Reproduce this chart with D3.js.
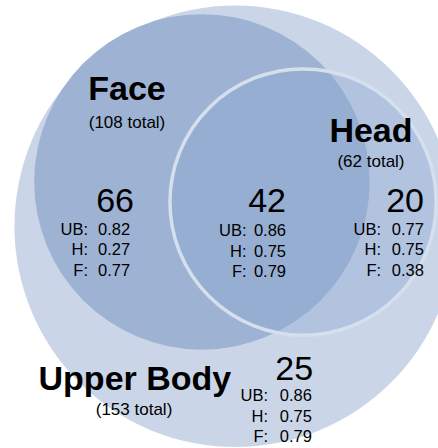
<!DOCTYPE html>
<html>
<head>
<meta charset="utf-8">
<script src="https://cdn.jsdelivr.net/npm/d3@7"></script>
<style>
  html, body { margin: 0; padding: 0; background: #fff; }
  svg { display: block; }
  text { font-family: "Liberation Sans", Arial, sans-serif; fill: #000; }
</style>
</head>
<body>
<svg id="chart" width="438" height="448"></svg>
<script>
// ---- data ----
const setNames  = ["Upper Body", "Face", "Head"];
const setTotals = [153, 108, 62];
const regionCounts = [66, 42, 20, 25];          // Face only, Face∩Head, Head only, Upper Body only
const scoreUB = [0.82, 0.86, 0.77, 0.86];
const scoreH  = [0.27, 0.75, 0.75, 0.75];
const scoreF  = [0.77, 0.79, 0.38, 0.79];
const scoreLabels = ["UB:", "H:", "F:"];

// ---- layout (diagram units: 0..1000 each way) ----
const circleLayout = [
  { cx: 537, cy: 505, r: 504, fill: "#cad6e8", opacity: 1, stroke: "none" },
  { cx: 461, cy: 406, r: 383, fill: "#9eb3d4", opacity: 1, stroke: "none" },
  { cx: 692, cy: 451, r: 304, fill: "#8aa6cf", opacity: 0.38, stroke: "#d6dfec" }
];
const titleLayout = [
  { x: 308, y: 871, sx: 306, sy: 926 },   // Upper Body
  { x: 290, y: 223, sx: 290, sy: 286 },   // Face
  { x: 847, y: 317, sx: 847, sy: 373 }    // Head
];
const regionLayout = [
  { numX: 306, numY: 473, colon: 201, valX: 297, rowY: 524 },
  { numX: 653, numY: 473, colon: 563, valX: 653, rowY: 527 },
  { numX: 968, numY: 473, colon: 870, valX: 968, rowY: 524 },
  { numX: 715, numY: 848, colon: 612, valX: 712, rowY: 896 }
];

const W = 438, H = 448;
const svg = d3.select("#chart");
const x = d3.scaleLinear().domain([0, 1000]).range([0, W]);
const y = d3.scaleLinear().domain([0, 1000]).range([0, H]);
const rs = d3.scaleLinear().domain([0, 1000]).range([0, W]);

// circles
svg.append("g").selectAll("circle")
  .data(setNames.map((n, i) => ({ name: n, ...circleLayout[i] })))
  .join("circle")
  .attr("cx", d => x(d.cx))
  .attr("cy", d => y(d.cy))
  .attr("r", d => rs(d.r))
  .attr("fill", d => d.fill)
  .attr("fill-opacity", d => d.opacity)
  .attr("stroke", "none");

// Head outline drawn on top
const head = circleLayout[2];
svg.append("circle")
  .attr("cx", x(head.cx)).attr("cy", y(head.cy)).attr("r", rs(head.r))
  .attr("fill", "none").attr("stroke", head.stroke).attr("stroke-width", 3.5);

// set titles
const tg = svg.append("g");
setNames.forEach((n, i) => {
  const L = titleLayout[i];
  tg.append("text").attr("x", x(L.x)).attr("y", y(L.y))
    .attr("text-anchor", "middle").attr("font-size", 34).attr("font-weight", "bold")
    .text(n);
  tg.append("text").attr("x", x(L.sx)).attr("y", y(L.sy))
    .attr("text-anchor", "middle").attr("font-size", 17)
    .text(`(${setTotals[i]} total)`);
});

// region counts and scores
const fmt = d3.format(".2f");
const rg = svg.append("g");
regionCounts.forEach((c, i) => {
  const L = regionLayout[i];
  rg.append("text").attr("x", x(L.numX)).attr("y", y(L.numY))
    .attr("text-anchor", "end").attr("font-size", 34).text(c);
  const vals = [scoreUB[i], scoreH[i], scoreF[i]];
  vals.forEach((v, j) => {
    const yy = y(L.rowY) + j * 20.5;
    rg.append("text").attr("x", x(L.colon)).attr("y", yy)
      .attr("text-anchor", "end").attr("font-size", 16.5).text(scoreLabels[j]);
    rg.append("text").attr("x", x(L.valX)).attr("y", yy)
      .attr("text-anchor", "end").attr("font-size", 16.5).text(fmt(v));
  });
});
</script>
</body>
</html>
